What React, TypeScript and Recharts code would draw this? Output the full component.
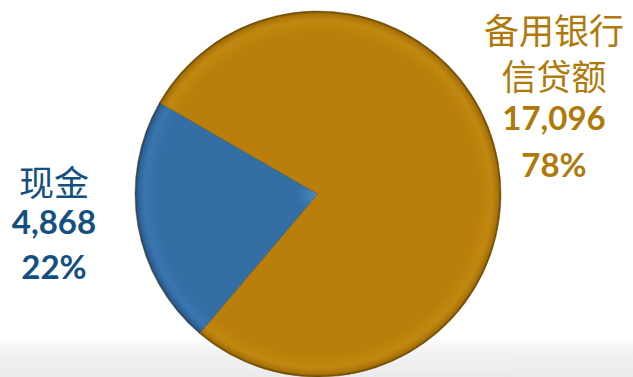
import { PieChart, Pie, Cell } from "recharts";

const categories = ["现金", "备用银行信贷额"];
const values = [4868, 17096];
const percents = ["22%", "78%"];
const labelLines = [["现金"], ["备用银行", "信贷额"]];

const colors = ["blue", "gold"];
const textColors = ["#13507f", "#b07a0b"];

const data = categories.map((name, i) => ({ name, value: values[i] }));

// label block positions (center x, first line y, line gap) for each slice
const labelPos = [
  { x: 54, y: 180, gap: 44 },
  { x: 554, y: 28, gap: 46 },
];

function renderLabel(props: any) {
  const i = props.index;
  const p = labelPos[i];
  const lines = labelLines[i];
  const color = textColors[i];
  const rows: any[] = [];
  lines.forEach((t, k) => {
    rows.push(
      <text
        key={"c" + k}
        x={p.x}
        y={p.y + k * p.gap}
        textAnchor="middle"
        dominantBaseline="central"
        fill={color}
        style={{ fontFamily: "'Noto Sans CJK SC'", fontSize: 35, fontWeight: 400 }}
      >
        {t}
      </text>
    );
  });
  const n = lines.length;
  rows.push(
    <text
      key="v"
      x={p.x}
      y={p.y + n * p.gap - 3}
      textAnchor="middle"
      dominantBaseline="central"
      fill={color}
      style={{ fontFamily: "Lato", fontSize: 33, fontWeight: 700 }}
    >
      {values[i].toLocaleString("en-US")}
    </text>
  );
  rows.push(
    <text
      key="p"
      x={p.x}
      y={p.y + (n + 1) * p.gap - 2}
      textAnchor="middle"
      dominantBaseline="central"
      fill={color}
      style={{ fontFamily: "Lato", fontSize: 33, fontWeight: 700 }}
    >
      {percents[i]}
    </text>
  );
  return <g key={"lbl" + i}>{rows}</g>;
}

export default function App() {
  return (
    <div
      style={{
        position: "absolute",
        left: 0,
        top: 0,
        width: 633,
        height: 377,
        background: "linear-gradient(to bottom, #ffffff 0px, #ffffff 338px, #f3f3f3 350px, #ebebeb 377px)",
      }}
    >
      <PieChart width={633} height={377} margin={{ top: 0, right: 0, bottom: 0, left: 0 }}>
        <defs>
          <radialGradient id="gold" cx="318" cy="194" r="183" gradientUnits="userSpaceOnUse">
            <stop offset="0%" stopColor="#b97f0a" />
            <stop offset="88%" stopColor="#b97f0a" />
            <stop offset="95%" stopColor="#c18810" />
            <stop offset="98.5%" stopColor="#a87208" />
            <stop offset="100%" stopColor="#5e4004" />
          </radialGradient>
          <radialGradient id="blue" cx="318" cy="194" r="183" gradientUnits="userSpaceOnUse">
            <stop offset="0%" stopColor="#4a8ac4" />
            <stop offset="12%" stopColor="#336ea5" />
            <stop offset="88%" stopColor="#336ea5" />
            <stop offset="95%" stopColor="#3a76ae" />
            <stop offset="98.5%" stopColor="#2c6095" />
            <stop offset="100%" stopColor="#1b3d60" />
          </radialGradient>
        </defs>
        <Pie
          data={data}
          dataKey="value"
          nameKey="name"
          cx={318}
          cy={194}
          innerRadius={0}
          outerRadius={183}
          startAngle={150}
          endAngle={510}
          stroke="#7a5509"
          strokeWidth={0.5}
          label={renderLabel}
          labelLine={false}
          isAnimationActive={false}
        >
          {data.map((d, i) => (
            <Cell key={d.name} fill={`url(#${colors[i]})`} />
          ))}
        </Pie>
      </PieChart>
    </div>
  );
}
